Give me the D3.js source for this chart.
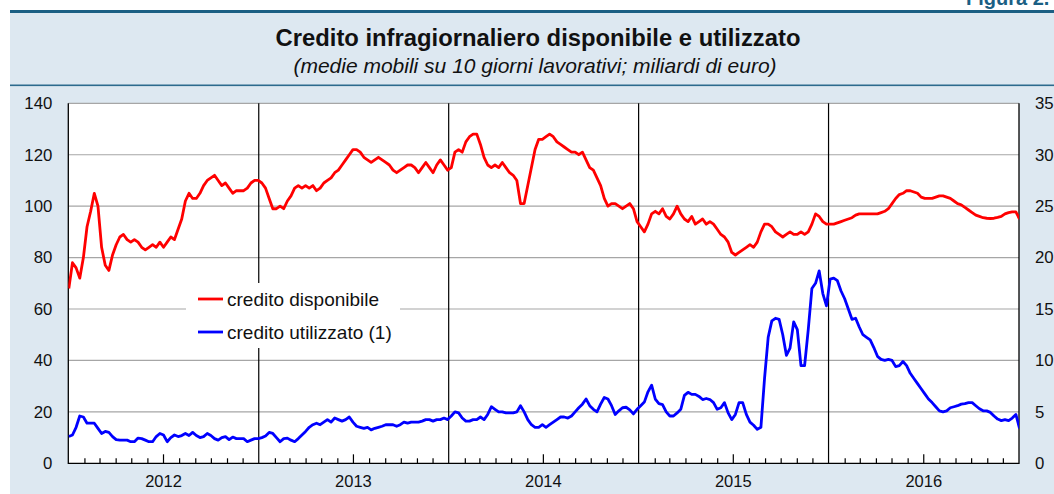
<!DOCTYPE html>
<html><head><meta charset="utf-8">
<script src="https://cdn.jsdelivr.net/npm/d3@7"></script>
<style>
body{margin:0;background:#fff}
svg{display:block}
text{font-family:"Liberation Sans",Arial,Helvetica,sans-serif;fill:#111}
</style>
</head><body>
<svg id="chart" width="1054" height="494"></svg>
<script>
const figureLabel = "Figura 2.";
const title = "Credito infragiornaliero disponibile e utilizzato";
const subtitle = "(medie mobili su 10 giorni lavorativi; miliardi di euro)";
const seriesNames = ["credito disponibile", "credito utilizzato (1)"];
const years = [2012, 2013, 2014, 2015, 2016];
const leftTicks = [0, 20, 40, 60, 80, 100, 120, 140];
const rightTicks = [0, 5, 10, 15, 20, 25, 30, 35];

// weekly readings (Mondays), left scale: credito disponibile
const disponibile2012 = [68,78,76,72,80,92,98,105,100,84,77,75,81,85,88,89,87,86,87,86,84,83,84,85,84,86,84,86,88,87,91,95,102,105,103,103,105,108,110,111,112,110,108,109,107,105,106,106,106,107,109,110,110];
const disponibile2013 = [109,107,103,99,99,100,99,102,104,107,108,107,108,107,108,106,107,109,110,111,113,114,116,118,120,122,122,121,119,118,117,118,119,118,117,116,114,113,114,115,116,116,115,113,115,117,115,113,116,118,116,114];
const disponibile2014 = [115,121,122,121,125,127,128,128,124,119,116,115,116,115,117,115,113,112,110,101,101,108,115,122,126,126,127,128,127,125,124,123,122,121,121,120,121,118,115,114,111,108,103,100,101,101,100,99,100,101,99,94];
const disponibile2015 = [92,90,93,97,98,97,99,96,95,97,100,97,95,94,96,93,94,95,93,94,93,91,89,88,86,82,81,82,83,84,85,84,86,90,93,93,92,90,89,88,89,90,89,89,90,89,90,93,97,96,94,93];
const disponibile2016 = [93,93,93.5,94,94.5,95,95.5,96.5,97,97,97,97,97,97,97.5,98,99,101,103,104.5,105,106,106,105.5,105,103.5,103,103,103,103.5,104,104,103.5,103,102,101,100.5,99.5,98.5,97.5,96.5,96,95.5,95.3,95.2,95.3,95.6,96,97,97.5,97.8,97.8,95];

// weekly readings (Mondays), right scale: credito utilizzato
const utilizzato2012 = [2.6,2.75,3.5,4.6,4.5,3.9,3.9,3.9,3.4,2.9,3.1,3.0,2.6,2.3,2.25,2.25,2.25,2.1,2.1,2.45,2.4,2.25,2.1,2.1,2.6,2.9,2.75,2.1,2.5,2.75,2.6,2.7,2.9,2.7,3.0,2.7,2.5,2.6,2.9,2.7,2.4,2.25,2.5,2.6,2.3,2.55,2.4,2.4,2.4,2.1,2.25,2.4,2.4];
const utilizzato2013 = [2.5,2.65,3.0,2.9,2.5,2.1,2.4,2.45,2.25,2.1,2.4,2.75,3.1,3.5,3.75,3.9,3.75,4.0,4.25,4.0,4.4,4.25,4.1,4.25,4.5,4.0,3.6,3.5,3.4,3.5,3.25,3.4,3.5,3.6,3.75,3.75,3.75,3.6,3.75,4.0,3.9,4.0,4.0,4.0,4.1,4.25,4.25,4.1,4.25,4.25,4.4,4.25];
const utilizzato2014 = [4.6,5.0,4.9,4.4,4.1,4.1,4.25,4.25,4.5,4.25,4.75,5.5,5.25,5.0,5.0,4.9,4.9,4.9,5.0,5.6,5.0,4.25,3.75,3.5,3.5,3.75,3.5,3.75,4.0,4.25,4.5,4.5,4.4,4.6,5.0,5.4,5.75,6.25,5.6,5.25,5.0,5.75,6.4,6.25,5.6,4.75,5.1,5.4,5.45,5.2,4.8,5.25];
const utilizzato2015 = [5.6,5.95,6.95,7.6,6.25,5.8,5.7,5.0,4.6,4.6,4.9,5.25,6.6,6.9,6.7,6.7,6.5,6.2,6.3,6.2,5.9,5.25,5.4,5.9,4.9,4.25,4.75,5.9,5.9,4.75,4.0,3.7,3.3,3.5,8.25,12.25,13.85,14.1,14.0,12.5,10.5,11.2,13.75,13.0,9.5,9.5,13.0,17.0,17.5,18.7,16.5,15.3];
const utilizzato2016 = [17.9,18.0,17.75,16.75,16.0,15.0,14.0,14.1,13.25,12.5,12.25,12.0,11.25,10.4,10.1,10.0,10.1,10.0,9.4,9.5,9.9,9.5,8.75,8.25,7.75,7.25,6.75,6.25,5.9,5.5,5.1,5.0,5.1,5.4,5.5,5.6,5.75,5.8,5.9,5.9,5.6,5.3,5.1,5.1,4.95,4.6,4.3,4.15,4.25,4.15,4.4,4.75,3.4];

const disponibileByYear = [disponibile2012, disponibile2013, disponibile2014, disponibile2015, disponibile2016];
const utilizzatoByYear = [utilizzato2012, utilizzato2013, utilizzato2014, utilizzato2015, utilizzato2016];

function toSeries(byYear) {
  const out = [];
  years.forEach((y, k) => {
    const first = d3.timeMonday.ceil(new Date(y, 0, 1));
    byYear[k].forEach((v, i) => out.push({date: d3.timeWeek.offset(first, i), v}));
  });
  return out;
}
const dispSeries = toSeries(disponibileByYear);
const utilSeries = toSeries(utilizzatoByYear);

const W = 1054, H = 494;
const plot = {left: 68.3, right: 1019, top: 103.3, bottom: 463.3};
const svg = d3.select("#chart");
const axisFont = "Liberation Sans, Arial, sans-serif";

// background panel
svg.append("rect").attr("x", 0).attr("y", 0).attr("width", W).attr("height", H).attr("fill", "#fff");
svg.append("rect").attr("x", 10).attr("y", 12).attr("width", W - 10).attr("height", H - 12).attr("fill", "#dde8f1");
svg.append("rect").attr("x", 10).attr("y", 10).attr("width", W - 10).attr("height", 3).attr("fill", "#1b5f84");
svg.append("rect").attr("x", 10).attr("y", 84.5).attr("width", W - 10).attr("height", 1.6).attr("fill", "#2c6b8e");

svg.append("text").attr("x", 966).attr("y", 5).attr("font-size", 20).attr("font-weight", "bold")
  .style("fill", "#1b5f84").text(figureLabel);
svg.append("text").attr("x", 538).attr("y", 46).attr("text-anchor", "middle")
  .attr("font-size", 23.8).attr("font-weight", "bold").text(title);
svg.append("text").attr("x", 535).attr("y", 73).attr("text-anchor", "middle")
  .attr("font-size", 21).attr("font-style", "italic").text(subtitle);

const x = d3.scaleTime().domain([new Date(2012, 0, 1), new Date(2017, 0, 1)]).range([plot.left, plot.right]);
const yL = d3.scaleLinear().domain([0, 140]).range([plot.bottom, plot.top]);
const yR = d3.scaleLinear().domain([0, 35]).range([plot.bottom, plot.top]);

svg.append("rect").attr("x", plot.left).attr("y", plot.top)
  .attr("width", plot.right - plot.left).attr("height", plot.bottom - plot.top).attr("fill", "#fff");

// horizontal grid
svg.append("g").selectAll("line").data(leftTicks.filter(d => d > 0)).join("line")
  .attr("x1", plot.left).attr("x2", plot.right)
  .attr("y1", d => yL(d)).attr("y2", d => yL(d))
  .attr("stroke", "#a6a6a6").attr("stroke-width", 1.2);

// year separators
svg.append("g").selectAll("line").data(years.slice(1)).join("line")
  .attr("x1", d => x(new Date(d, 0, 1))).attr("x2", d => x(new Date(d, 0, 1)))
  .attr("y1", plot.top).attr("y2", plot.bottom)
  .attr("stroke", "#000").attr("stroke-width", 1.2);

// monthly ticks
const months = d3.timeMonth.range(new Date(2012, 1, 1), new Date(2017, 0, 1)).filter(d => d.getMonth() !== 0);
const xAxis = svg.append("g").attr("transform", `translate(0,${plot.bottom})`)
  .call(d3.axisBottom(x).tickValues(months).tickSizeInner(-5).tickSizeOuter(0).tickFormat(""));
xAxis.select(".domain").remove();
xAxis.selectAll(".tick line").attr("stroke", "#000").attr("stroke-width", 1.2)
  .attr("y2", d => d.getMonth() === 6 ? -9 : -5);

// year labels
const yearAxis = svg.append("g").attr("transform", `translate(0,${plot.bottom})`)
  .call(d3.axisBottom(x).tickValues(years.map(y => new Date(y, 6, 1))).tickSize(0).tickPadding(12)
    .tickFormat(d3.timeFormat("%Y")));
yearAxis.select(".domain").remove();
yearAxis.selectAll("text").attr("font-size", 16.5).attr("font-family", axisFont).style("fill", "#111");

// left / right value axes
const leftAxis = svg.append("g").attr("transform", `translate(${plot.left},0)`)
  .call(d3.axisLeft(yL).tickValues(leftTicks).tickSize(0).tickPadding(16));
leftAxis.select(".domain").remove();
leftAxis.selectAll("text").attr("font-size", 16.8).attr("font-family", axisFont).style("fill", "#111");
const rightAxis = svg.append("g").attr("transform", `translate(${plot.right},0)`)
  .call(d3.axisRight(yR).tickValues(rightTicks).tickSize(0).tickPadding(16));
rightAxis.select(".domain").remove();
rightAxis.selectAll("text").attr("font-size", 16.8).attr("font-family", axisFont).style("fill", "#111");

// frame
svg.append("path")
  .attr("d", `M${plot.left},${plot.top}V${plot.bottom}H${plot.right}V${plot.top}`)
  .attr("fill", "none").attr("stroke", "#000").attr("stroke-width", 1.3);

// clip
svg.append("clipPath").attr("id", "clip").append("rect")
  .attr("x", plot.left).attr("y", plot.top).attr("width", plot.right - plot.left).attr("height", plot.bottom - plot.top);

const lineL = d3.line().x(d => x(d.date)).y(d => yL(d.v));
const lineR = d3.line().x(d => x(d.date)).y(d => yR(d.v));
const gLines = svg.append("g").attr("clip-path", "url(#clip)");
gLines.append("path").datum(utilSeries).attr("d", lineR).attr("fill", "none")
  .attr("stroke", "#0000ff").attr("stroke-width", 2.8).attr("stroke-linejoin", "round");
gLines.append("path").datum(dispSeries).attr("d", lineL).attr("fill", "none")
  .attr("stroke", "#ff0000").attr("stroke-width", 2.8).attr("stroke-linejoin", "round");

// legend
const legend = svg.append("g");
legend.append("rect").attr("x", 186).attr("y", 283).attr("width", 214).attr("height", 65).attr("fill", "#fff");
const colors = ["#ff0000", "#0000ff"];
seriesNames.forEach((name, i) => {
  const cy = 299 + i * 33;
  legend.append("line").attr("x1", 198).attr("x2", 223).attr("y1", cy).attr("y2", cy)
    .attr("stroke", colors[i]).attr("stroke-width", 2.8);
  legend.append("text").attr("x", 227).attr("y", cy + 6.5).attr("font-size", 19).text(name);
});
</script>
</body></html>
